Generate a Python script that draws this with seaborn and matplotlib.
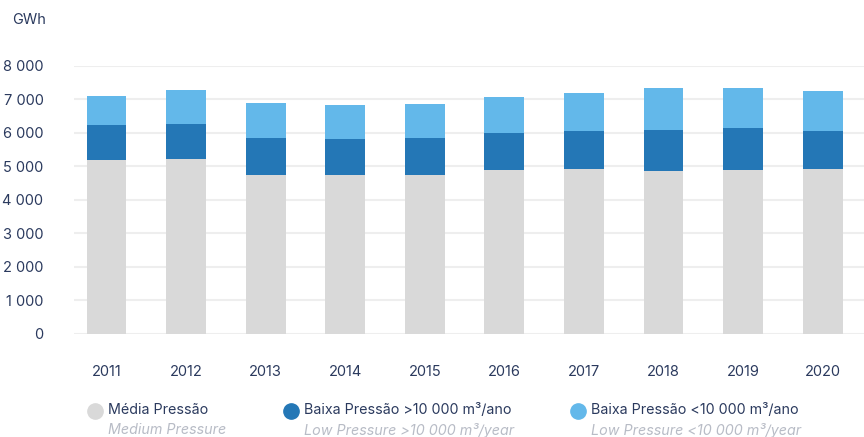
import pandas as pd
import seaborn as sns
import matplotlib.pyplot as plt
from matplotlib.lines import Line2D

years = ['2011', '2012', '2013', '2014', '2015', '2016', '2017', '2018', '2019', '2020']
media = [5190, 5220, 4750, 4750, 4750, 4900, 4930, 4870, 4900, 4930]
baixa_alta = [1050, 1050, 1100, 1070, 1100, 1100, 1130, 1220, 1250, 1130]
baixa_baixa = [860, 1010, 1050, 1020, 1020, 1070, 1130, 1250, 1190, 1190]

navy = '#2b3a5e'
c_media = '#d9d9d9'
c_alta = '#2477b6'
c_baixa = '#63b8ea'

data = pd.DataFrame({'year': years, 'media': media, 'alta': baixa_alta, 'baixa': baixa_baixa})
data['s2'] = data['media'] + data['alta']
data['s3'] = data['s2'] + data['baixa']

sns.set_style('white')
plt.rcParams['font.family'] = ['Inter', 'DejaVu Sans']

fig = plt.figure(figsize=(8.64, 4.37), dpi=100)
ax = fig.add_axes([0.0856, 0.2357, 0.9144, 0.6133])

for col, color in [('s3', c_baixa), ('s2', c_alta), ('media', c_media)]:
    sns.barplot(data=data, x='year', y=col, color=color, width=0.5,
                saturation=1, linewidth=0, ax=ax, zorder=3)

ax.set_ylim(0, 8000)
ax.set_xlim(-0.41, 9.52)
ax.set_yticks(range(0, 8001, 1000))
ax.set_yticklabels([f'{v:,}'.replace(',', ' ') for v in range(0, 8001, 1000)])
ax.grid(axis='y', color='#eeeeee', linewidth=1.5, zorder=0)
ax.set_axisbelow(True)
sns.despine(ax=ax, left=True, bottom=True)
ax.set_xlabel('')
ax.set_ylabel('')
ax.tick_params(axis='y', length=0, pad=22, labelsize=10.5, labelcolor=navy)
ax.tick_params(axis='x', length=0, pad=22, labelsize=10.5, labelcolor=navy)

fig.text(12 / 864, 1 - 20 / 437, 'GWh', fontsize=10.5, color=navy, va='center', ha='left')

legend_items = [
    (95, c_media, 'Média Pressão', 'Medium Pressure'),
    (291, c_alta, 'Baixa Pressão >10 000 m³/ano', 'Low Pressure >10 000 m³/year'),
    (578, c_baixa, 'Baixa Pressão <10 000 m³/ano', 'Low Pressure <10 000 m³/year'),
]
for x, color, top, bottom in legend_items:
    fig.add_artist(Line2D([x / 864], [1 - 411 / 437], marker='o', markersize=11,
                          color=color, linestyle='none', transform=fig.transFigure))
    fig.text((x + 13) / 864, 1 - 410 / 437, top, fontsize=10.3, color=navy, va='center', ha='left')
    fig.text((x + 13) / 864, 1 - 430 / 437, bottom, fontsize=10.3, color='#b8bcc6',
             style='italic', va='center', ha='left')

fig.savefig('out.png', dpi=100)
